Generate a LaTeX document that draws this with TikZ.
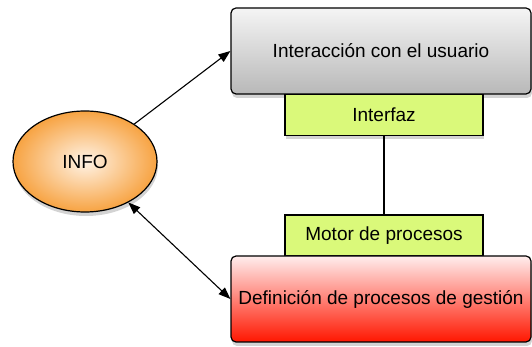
\documentclass[tikz,border=0pt]{standalone}
\usepackage{fontspec}
\setmainfont{Liberation Sans}
\usetikzlibrary{shapes.geometric,shadows,arrows.meta}

\definecolor{tagfill}{RGB}{218,249,122}
\definecolor{infoedge}{RGB}{247,163,66}
\definecolor{infocore}{RGB}{255,243,230}
\definecolor{userfill}{RGB}{184,184,184}
\definecolor{deffill}{RGB}{255,22,0}

\tikzset{
	layer/.style={draw, line width=1.2pt, rounded corners=5pt, minimum width=300pt, minimum height=86pt,
		drop shadow={shadow xshift=1pt, shadow yshift=-4pt, opacity=0.35}},
	tag/.style={draw, line width=1.2pt, fill=tagfill, minimum width=198pt, minimum height=41pt,
		drop shadow={shadow xshift=1pt, shadow yshift=-4pt, opacity=0.35}},
	link/.style={line width=1.1pt, -{Triangle[length=12pt, width=9pt]}},
}

\begin{document}
\begin{tikzpicture}[x=1pt, y=1pt, font=\fontsize{19}{22}\selectfont]
	\useasboundingbox (0, 0) rectangle (532, 347);

	\node[layer, top color=gray!8, bottom color=userfill] (usuario) at (381, 296) {Interacción con el usuario};
	\node[tag] (interfaz) at (384, 232) {Interfaz};
	\node[tag] (motor) at (384, 111.5) {Motor de procesos};
	\node[layer, top color=red!7, bottom color=deffill] (gestion) at (381, 48) {Definición de procesos de gestión};

	\node[ellipse, draw, line width=1.2pt, minimum width=144pt, minimum height=101pt,
		inner color=infocore, outer color=infoedge,
		drop shadow={shadow xshift=1pt, shadow yshift=-4pt, opacity=0.35}] (info) at (85, 185.5) {INFO};

	\draw[line width=1.1pt] (interfaz) -- (motor);
	\draw[link] (info) -- (usuario.west);
	\draw[link, {Triangle[length=12pt, width=9pt]}-{Triangle[length=12pt, width=9pt]}] (info) -- (gestion.west);

\end{tikzpicture}
\end{document}
